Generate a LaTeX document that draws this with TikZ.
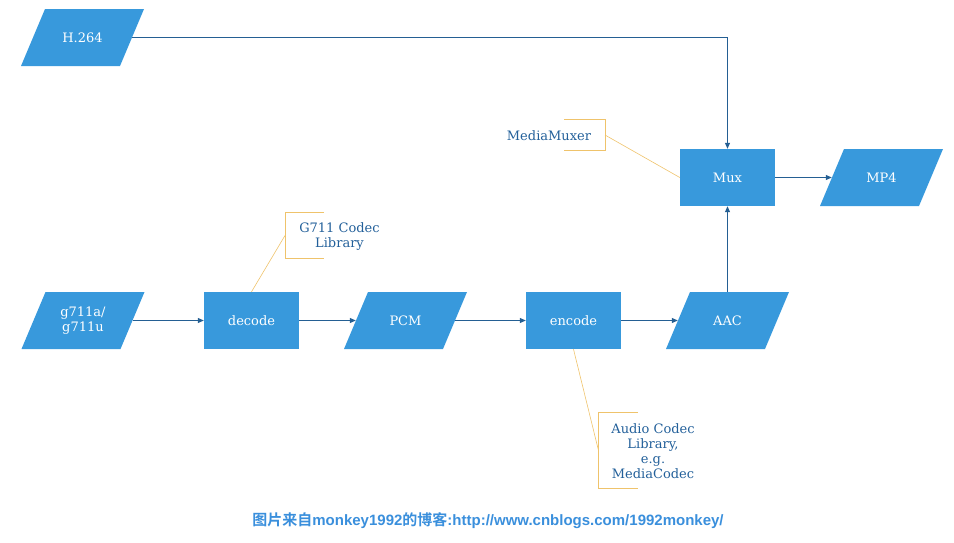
\documentclass[tikz,border=0pt]{standalone}
\usepackage{fontspec}
\setmainfont{DejaVu Serif}
\newfontfamily\cjkbold{Noto Sans CJK SC Bold}
\newfontfamily\latbold{Liberation Sans Bold}
\usetikzlibrary{arrows.meta}
\definecolor{boxblue}{HTML}{3899DC}
\definecolor{linkblue}{HTML}{245F93}
\definecolor{notecol}{HTML}{23609A}
\definecolor{bracketcol}{HTML}{EFC36B}
\definecolor{markcol}{HTML}{3A8FDC}
\begin{document}
\begin{tikzpicture}[x=1pt,y=-1pt,
  font=\fontsize{13}{15}\selectfont,
  rectbox/.style={fill=boxblue, text=white, minimum width=95pt, minimum height=57pt, inner sep=0pt},
  para/.style={minimum width=123pt, minimum height=57pt, inner sep=0pt, text=white, align=center,
    path picture={\fill[boxblue] ([xshift=24pt]path picture bounding box.north west) -- (path picture bounding box.north east) -- ([xshift=-24pt]path picture bounding box.south east) -- (path picture bounding box.south west) -- cycle;}},
  link/.style={draw=linkblue, line width=0.8pt, -{Triangle[length=6pt,width=5pt]}},
  note/.style={text=notecol, align=center, inner sep=0pt},
  bracket/.style={draw=bracketcol, line width=0.8pt},
  noteline/.style={draw=bracketcol, line width=0.6pt}
]
\useasboundingbox (0,0) rectangle (954,542);

\node[para] (h264) at (82.5,37.5) {H.264};
\node[para] (g711) at (83,320.5) {g711a/\\g711u};
\node[rectbox] (decode) at (251.5,320.5) {decode};
\node[para] (pcm) at (405.5,320.5) {PCM};
\node[rectbox] (encode) at (573.5,320.5) {encode};
\node[para] (aac) at (727.5,320.5) {AAC};
\node[rectbox] (mux) at (727.5,177.5) {Mux};
\node[para] (mp4) at (881.5,177.5) {MP4};

% edges
\draw[link] ([xshift=-12pt]h264.east) -| (mux.north);
\draw[link] ([xshift=-12pt]g711.east) -- (decode.west);
\draw[link] (decode.east) -- ([xshift=12pt]pcm.west);
\draw[link] ([xshift=-12pt]pcm.east) -- (encode.west);
\draw[link] (encode.east) -- ([xshift=12pt]aac.west);
\draw[link] (aac.north) -- (mux.south);
\draw[link] (mux.east) -- ([xshift=12pt]mp4.west);

% annotations
\node[note] (muxer) at (549,135.5) {MediaMuxer};
\coordinate (mb1) at (564,119.5);
\coordinate (mb2) at (605,119.5);
\coordinate (mb3) at (605,150.5);
\coordinate (mb4) at (564,150.5);
\coordinate (mbm) at (605,135);
\draw[bracket] (mb1) -- (mb2) -- (mb3) -- (mb4);
\draw[noteline] (mbm) -- (mux.west);

\node[note] (g711lib) at (339.5,236) {G711 Codec\\Library};
\coordinate (gb1) at (324,212.5);
\coordinate (gb2) at (285,212.5);
\coordinate (gb3) at (285,258.5);
\coordinate (gb4) at (324,258.5);
\coordinate (gbm) at (285,235.5);
\draw[bracket] (gb1) -- (gb2) -- (gb3) -- (gb4);
\draw[noteline] (gbm) -- (decode.north);

\node[note] (audiolib) at (653,451) {Audio Codec\\Library,\\e.g.\\MediaCodec};
\coordinate (ab1) at (638,412.5);
\coordinate (ab2) at (598.5,412.5);
\coordinate (ab3) at (598.5,488.5);
\coordinate (ab4) at (638,488.5);
\coordinate (abm) at (598.5,450.5);
\draw[bracket] (ab1) -- (ab2) -- (ab3) -- (ab4);
\draw[noteline] (abm) -- (encode.south);

% watermark
\node[text=markcol, inner sep=0pt] (mark) at (488,521) {\fontsize{15}{17}\selectfont{\cjkbold 图片来自}{\latbold monkey1992}{\cjkbold 的博客}{\latbold :http://www.cnblogs.com/1992monkey/}};
\end{tikzpicture}
\end{document}
